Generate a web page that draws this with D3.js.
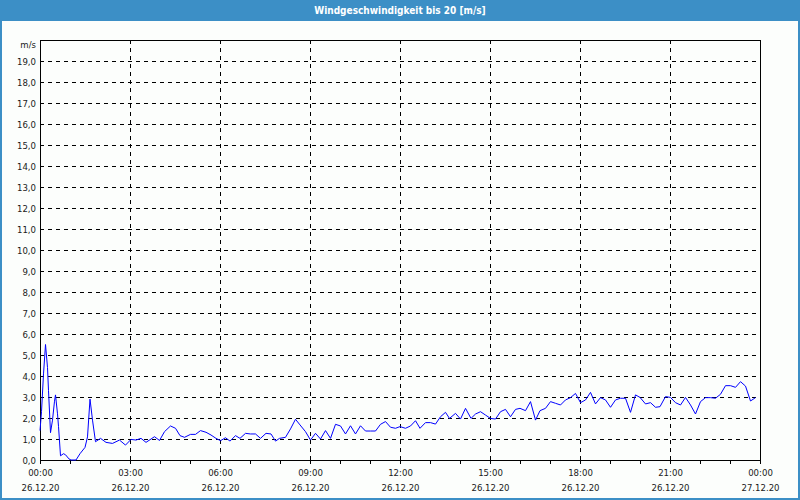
<!DOCTYPE html>
<meta charset="utf-8">
<title>Windgeschwindigkeit</title>
<style>
  body { margin: 0; background: #ffffff; }
  svg { display: block; }
  text { font-family: "DejaVu Sans Condensed", "DejaVu Sans", sans-serif; }
</style>
<body>
<script src="https://cdn.jsdelivr.net/npm/d3@7"></script>
<script>

var width = 800;
var height = 500;

// minutes since 26.12.20 00:00 and wind speed in m/s
var minutes = [0, 3, 7, 11, 15, 17, 21, 25, 29, 31, 35, 37, 41, 47, 51, 58, 62, 72, 80, 90,
  95, 100, 105, 111, 121, 132, 145, 159, 171, 182, 192, 202, 212, 229, 239, 249, 261, 271, 280, 289,
  301, 311, 321, 332, 342, 352, 361, 371, 380, 391, 400, 411, 421, 431, 441, 452, 462, 471, 479, 491,
  501, 511, 520, 531, 541, 551, 561, 571, 581, 591, 601, 611, 621, 631, 641, 651, 661, 671, 681, 691,
  701, 711, 720, 731, 741, 751, 760, 771, 781, 791, 801, 811, 819, 831, 841, 851, 862, 871, 881, 891,
  901, 911, 921, 931, 941, 951, 960, 971, 981, 991, 1000, 1011, 1021, 1031, 1041, 1051, 1061, 1071, 1081, 1091,
  1101, 1111, 1121, 1131, 1141, 1151, 1161, 1171, 1181, 1191, 1200, 1211, 1221, 1231, 1240, 1251, 1261, 1271, 1281, 1291,
  1301, 1311, 1321, 1331, 1341, 1351, 1361, 1371, 1381, 1391, 1401, 1411, 1421, 1431];

var speed = [1.4, 2.3, 4.1, 5.5, 4.4, 3.3, 1.3, 1.9, 2.8, 3.1, 2.2, 1.6, 0.2, 0.3, 0.25, 0.05, 0, 0, 0.3, 0.6,
  1.1, 2.9, 1.9, 0.87, 1.03, 0.84, 0.79, 0.95, 0.71, 0.98, 0.95, 1.03, 0.84, 1.11, 0.93, 1.35, 1.62, 1.51, 1.16, 1.08,
  1.22, 1.22, 1.4, 1.32, 1.19, 1.03, 0.92, 1.06, 0.9, 1.16, 1.03, 1.27, 1.24, 1.24, 1.03, 1.27, 1.24, 0.9, 1.03, 1.08,
  1.48, 1.94, 1.67, 1.35, 0.95, 1.27, 1.0, 1.4, 1.03, 1.7, 1.62, 1.24, 1.63, 1.24, 1.63, 1.38, 1.38, 1.38, 1.7, 1.83,
  1.56, 1.51, 1.59, 1.51, 1.62, 1.87, 1.51, 1.78, 1.78, 1.71, 2.06, 2.27, 1.98, 2.22, 1.95, 2.46, 1.98, 2.19, 2.3, 2.14,
  1.98, 1.95, 2.3, 2.41, 2.06, 2.41, 2.46, 2.35, 2.78, 1.9, 2.35, 2.46, 2.78, 2.7, 2.62, 2.86, 2.97, 3.17, 2.73, 2.86,
  3.22, 2.67, 2.97, 2.86, 2.51, 2.86, 2.94, 2.94, 2.27, 3.1, 2.98, 2.67, 2.73, 2.51, 2.54, 3.02, 2.98, 2.73, 2.62, 2.98,
  2.62, 2.19, 2.78, 2.97, 2.97, 2.94, 3.13, 3.54, 3.54, 3.46, 3.73, 3.52, 2.81, 2.97];

var yTicks = d3.range(0, 20, 1);
var start = new Date(2020, 11, 26, 0, 0);
var end = new Date(2020, 11, 27, 0, 0);

var points = minutes.map(function(m, i) {
  return { t: new Date(start.getTime() + m * 60000), v: speed[i] };
});

var blue = "#3c8fc6";

var svg = d3.select("body")
  .append("svg")
  .attr("width", width)
  .attr("height", height);

// frame + title bar
svg.append("rect")
  .attr("x", 0).attr("y", 0)
  .attr("width", width).attr("height", height)
  .attr("fill", blue);
svg.append("rect")
  .attr("x", 2).attr("y", 21)
  .attr("width", width - 4).attr("height", height - 23)
  .attr("fill", "#fcfefc");

svg.append("text")
  .attr("x", width / 2)
  .attr("y", 14)
  .attr("text-anchor", "middle")
  .style("fill", "#ffffff")
  .style("font-size", "10px")
  .style("font-weight", "bold")
  .text("Windgeschwindigkeit bis 20 [m/s]");

// plot area (don't call it "top", that is window.top)
var pLeft = 40, pRight = 760, pTop = 40, pBottom = 460;

var x = d3.scaleTime().domain([start, end]).range([pLeft, pRight]);
var y = d3.scaleLinear().domain([0, 20]).range([pBottom, pTop]);

// horizontal grid
svg.append("g")
  .selectAll("line")
  .data(yTicks.slice(1))
  .join("line")
  .attr("x1", pLeft).attr("x2", pRight)
  .attr("y1", function(d) { return Math.round(y(d)) + 0.5; })
  .attr("y2", function(d) { return Math.round(y(d)) + 0.5; })
  .attr("stroke", "#000")
  .attr("stroke-dasharray", "4,4")
  .attr("shape-rendering", "crispEdges");

// vertical grid every 3 hours
var majorTimes = d3.timeHour.every(3).range(start, d3.timeMinute.offset(end, 1));
svg.append("g")
  .selectAll("line")
  .data(majorTimes.slice(1, -1))
  .join("line")
  .attr("x1", function(d) { return Math.round(x(d)) + 0.5; })
  .attr("x2", function(d) { return Math.round(x(d)) + 0.5; })
  .attr("y1", pTop).attr("y2", pBottom)
  .attr("stroke", "#000")
  .attr("stroke-dasharray", "4,4")
  .attr("shape-rendering", "crispEdges");

// hourly minor ticks below the axis
var xMinor = d3.axisBottom(x)
  .ticks(d3.timeHour.every(1))
  .tickSize(4)
  .tickFormat("");
svg.append("g")
  .attr("transform", "translate(0," + pBottom + ")")
  .call(xMinor)
  .call(function(g) { g.select(".domain").remove(); })
  .selectAll("line")
  .attr("stroke", "#000")
  .attr("shape-rendering", "crispEdges");

// x labels, two lines
var xAxis = d3.axisBottom(x)
  .tickValues(majorTimes)
  .tickSize(0)
  .tickFormat("");
var gx = svg.append("g")
  .attr("transform", "translate(0," + pBottom + ")")
  .call(xAxis);
gx.select(".domain").remove();
gx.selectAll(".tick").each(function(d) {
  var t = d3.select(this);
  t.append("text")
    .attr("y", 16)
    .attr("text-anchor", "middle")
    .style("fill", "#1a1a1a")
    .style("font-size", "9.5px")
    .text(d3.timeFormat("%H:%M")(d));
  t.append("text")
    .attr("y", 31)
    .attr("text-anchor", "middle")
    .style("fill", "#1a1a1a")
    .style("font-size", "9.5px")
    .text(d3.timeFormat("%d.%m.%y")(d));
});

// y labels
var yAxis = d3.axisLeft(y)
  .tickValues(yTicks)
  .tickSize(0)
  .tickPadding(4)
  .tickFormat(function(d) { return d3.format(".1f")(d).replace(".", ","); });
var gy = svg.append("g")
  .attr("transform", "translate(" + pLeft + ",0)")
  .call(yAxis);
gy.select(".domain").remove();
gy.selectAll("text")
  .style("fill", "#1a1a1a")
  .style("font-size", "9.5px")
  .style("font-family", "\"DejaVu Sans Condensed\", \"DejaVu Sans\", sans-serif");

svg.append("text")
  .attr("x", pLeft - 4)
  .attr("y", 48)
  .attr("text-anchor", "end")
  .style("fill", "#1a1a1a")
  .style("font-size", "9.5px")
  .text("m/s");

// plot border
svg.append("rect")
  .attr("x", pLeft + 0.5).attr("y", pTop + 0.5)
  .attr("width", pRight - pLeft).attr("height", pBottom - pTop)
  .attr("fill", "none")
  .attr("stroke", "#000")
  .attr("shape-rendering", "crispEdges");

// wind line
var line = d3.line()
  .x(function(d) { return x(d.t); })
  .y(function(d) { return y(d.v); });

svg.append("path")
  .datum(points)
  .attr("d", line)
  .attr("fill", "none")
  .attr("stroke", "#0000ff")
  .attr("stroke-width", 1);

</script>
